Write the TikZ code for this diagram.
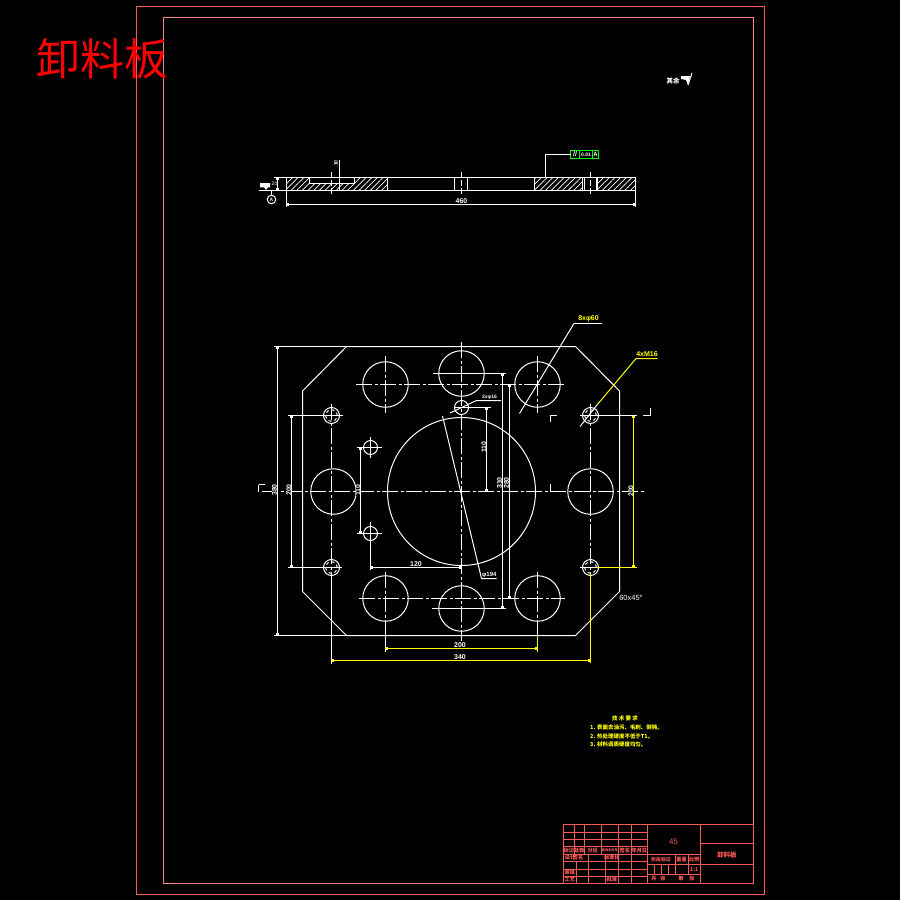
\documentclass[tikz,border=0pt]{standalone}
\usepackage{fontspec}
\setmainfont{Liberation Sans}
\newfontfamily\cjk{Noto Sans CJK SC}
\usetikzlibrary{arrows.meta, patterns.meta, positioning, calc}
\definecolor{framered}{RGB}{255,90,90}
\definecolor{framepink}{RGB}{255,130,140}
\definecolor{dimyellow}{RGB}{255,255,0}
\definecolor{framegreen}{RGB}{0,255,0}
\tikzset{
    outline/.style={draw=white, line width=1bp},
    centerline/.style={draw=white, line width=1bp, dash pattern=on 16bp off 2.5bp on 3bp off 2.5bp},
    dimline/.style={draw=white, line width=1bp, {Square[length=2.6bp,width=2.6bp]}-{Square[length=2.6bp,width=2.6bp]}},
    ydimline/.style={dimline, draw=dimyellow, line width=1.2bp},
    hole/.style={circle, draw=white, line width=1bp, inner sep=0pt, minimum size=#1},
    hatch/.style={pattern={Lines[angle=45,distance=4bp,line width=0.7bp]}, pattern color=white},
    dimtext/.style={text=white, font=\fontsize{7}{7}\selectfont\bfseries, inner sep=0pt},
    ydimtext/.style={dimtext, text=dimyellow},
    cell/.style={draw=framered, line width=1bp},
    celltext/.style={text=framered, font=\fontsize{5.2}{5.2}\selectfont\cjk\bfseries, inner sep=0pt}
}
\begin{document}
\begin{tikzpicture}[x=1bp, y=-1bp]
    \useasboundingbox (0,0) rectangle (900,900);
    \fill[black] (0,0) rectangle (900,900);

    % frames
    \draw[framered, line width=1bp] (136.5,6.5) rectangle (764.5,894.5);
    \draw[framepink, line width=0.9bp] (163.5,17.5) rectangle (753.5,883.5);
    \node[text=red, font=\fontsize{44}{44}\selectfont\cjk, inner sep=0pt] (title) at (102.5,59) {卸料板};

    % roughness note
    \node[dimtext, font=\fontsize{6.5}{6.5}\selectfont\cjk\bfseries] (note) at (673,81) {其余};
    \fill[white] (681,76) -- (690,76) -- (688,85) -- (686,80) -- (681,79) -- cycle;
    \draw[outline] (688,85) -- (692,73);

    % section view
    \fill[hatch] (286.5,177.5) -- (309.5,177.5) -- (309.5,183.5) -- (354.5,183.5) -- (354.5,177.5) -- (387.5,177.5) -- (387.5,190.5) -- (286.5,190.5) -- cycle;
    \fill[hatch] (534.5,177.5) rectangle (582.5,190.5);
    \fill[hatch] (598,177.5) rectangle (635.5,190.5);
    \draw[outline] (274,177.5) -- (635.5,177.5) -- (635.5,207);
    \draw[outline] (259,190.5) -- (635.5,190.5);
    \draw[outline] (286.5,177.5) -- (286.5,207);
    \draw[outline] (309.5,177.5) -- (309.5,183.5) -- (354.5,183.5) -- (354.5,177.5);
    \foreach \x in {387.5, 454.5, 467.5, 534.5, 582.5, 584.5, 596.5, 597.5} {
        \draw[outline] (\x,177.5) -- (\x,190.5);
    }
    \foreach \x in {331.5, 461.5, 590.5} {
        \draw[centerline, dash pattern=on 6bp off 2bp on 6bp off 2bp] (\x,172) -- (\x,196);
    }
    \draw[outline] (339.5,160) -- (339.5,190.5);
    \node[dimtext, rotate=90, font=\fontsize{5}{5}\selectfont\bfseries] (depth) at (336,163) {10};
    \draw[dimline] (277.5,177.5) -- (277.5,190.5);
    \node[dimtext, font=\fontsize{5}{5}\selectfont] (thick) at (274.5,184) {20};
    \draw[dimline] (286.5,204.5) -- (635.5,204.5);
    \node[dimtext, fill=black, inner xsep=1bp] (width) at (461.5,201.5) {460};
    \fill[white] (260,183) -- (270,183) -- (270,187.3) -- (268,187.3) -- (266,190) -- (264,187.3) -- (260,187.3) -- cycle;

    % datum and tolerance frame
    \node[hole=8.6bp, dimtext, draw=white] (datum) at (271.5,199.5) {\fontsize{5}{5}\selectfont A};
    \draw[outline] (271.5,190.5) -- (datum);
    \draw[framegreen, line width=1.2bp] (570.5,150.5) rectangle (598.5,158.5);
    \draw[framegreen, line width=1.2bp] (579.5,150.5) -- (579.5,158.5) (592.5,150.5) -- (592.5,158.5);
    \node[dimtext] (par) at (575,154.5) {//};
    \node[dimtext, font=\fontsize{5}{5}\selectfont\bfseries] (tol) at (586,154.5) {0.01};
    \node[dimtext, font=\fontsize{6}{6}\selectfont\bfseries] (tolref) at (595.5,154.5) {A};
    \draw[outline] (570.5,154.5) -- (545.5,154.5) -- (545.5,177.5);

    % plan outline
    \draw[outline] (346.5,346.5) -- (575.5,346.5) -- (619.5,391) -- (619.5,591.5) -- (575.5,635.5) -- (346.5,635.5) -- (302.5,591.5) -- (302.5,391) -- cycle;
    \draw[outline] (274,346.5) -- (346.5,346.5) (274,635.5) -- (346.5,635.5);

    % holes
    \node[hole=148bp] (bore) at (461.5,491.5) {};
    \foreach \n/\x/\y in {a/385.5/384.5, b/461.5/373.5, c/537.5/384.5, d/333.5/491.5, e/590.5/491.5, f/385.5/598.5, g/461.5/608.5, h/537.5/598.5} {
        \node[hole=45.5bp] (big\n) at (\x,\y) {};
    }
    \foreach \n/\x/\y in {a/331.5/415.5, b/590.5/415.5, c/331.5/567.5, d/590.5/567.5} {
        \node[hole=16bp] (thr\n) at (\x,\y) {};
        \node[hole=11.5bp, dashed] (thi\n) at (\x,\y) {};
    }
    \node[hole=14bp] (pina) at (370.5,447.5) {};
    \node[hole=14bp] (pinb) at (370.5,533.5) {};
    \node[hole=14bp] (pinc) at (461.5,407.5) {};

    % center lines
    \draw[centerline] (262,491.5) -- (645,491.5);
    \draw[centerline] (461.5,342) -- (461.5,640.5);
    \draw[centerline] (331.5,404) -- (331.5,578);
    \draw[centerline] (590.5,404) -- (590.5,578);
    \draw[centerline] (356,384.5) -- (566,384.5);
    \draw[centerline] (359,598.5) -- (565,598.5);
    \draw[outline] (433,373.5) -- (506,373.5) (432,608.5) -- (506,608.5);
    \foreach \x in {385.5, 537.5} {
        \draw[centerline] (\x,356) -- (\x,412.5);
        \draw[centerline] (\x,572) -- (\x,621);
    }
    \draw[outline] (357,447.5) -- (382,447.5) (370.5,437) -- (370.5,458);
    \draw[outline] (357,533.5) -- (382,533.5) (370.5,522) -- (370.5,570);
    \draw[outline] (385.5,621) -- (385.5,651.5);
    \draw[outline] (331.5,578) -- (331.5,664);
    \draw[outline] (288,415.5) -- (343,415.5) (288,567.5) -- (342,567.5);
    \draw[outline] (580,415.5) -- (637,415.5) (580,567.5) -- (597,567.5);
    \draw[outline] (455,407.5) -- (491,407.5);
    \draw[outline] (537.5,621) -- (537.5,635.5);
    \draw[dimyellow, line width=1.2bp] (537.5,635.5) -- (537.5,651.5);
    \draw[dimyellow, line width=1.2bp] (590.5,574) -- (590.5,663);
    \draw[dimyellow, line width=1.2bp] (597,567.5) -- (637,567.5);

    % section marks
    \draw[outline] (557,415.5) -- (550.5,415.5) -- (550.5,422);
    \draw[outline] (550.5,484) -- (550.5,491.5);
    \draw[outline] (643,415.5) -- (650.5,415.5) -- (650.5,408);
    \draw[outline] (258.5,484.5) -- (265,484.5) (258.5,484.5) -- (258.5,491.5);

    % dimensions
    \draw[dimline] (277.5,346.5) -- (277.5,635.5);
    \node[dimtext, rotate=90, fill=black] (dima) at (274.5,490) {380};
    \draw[dimline] (291.5,415.5) -- (291.5,567.5);
    \node[dimtext, rotate=90, fill=black] (dimb) at (289,490) {200};
    \draw[dimline] (360.5,447.5) -- (360.5,533.5);
    \node[dimtext, rotate=90, fill=black] (dimc) at (358,490) {110};
    \draw[dimline] (486.5,407.5) -- (486.5,491.5);
    \node[dimtext, rotate=90, fill=black] (dimd) at (484,447) {110};
    \draw[dimline] (502.5,373.5) -- (502.5,608.5);
    \node[dimtext, rotate=90] (dime) at (499.5,483) {310};
    \draw[dimline] (509.5,384.5) -- (509.5,598.5);
    \node[dimtext, rotate=90] (dimf) at (506.5,483) {280};
    \draw[ydimline] (633.5,415.5) -- (633.5,567.5);
    \node[dimtext, rotate=90, fill=black] (dimg) at (631,491) {200};
    \draw[dimline] (370.5,567.5) -- (461.5,567.5);
    \node[dimtext] (dimh) at (416,564) {120};
    \draw[ydimline] (385.5,648.5) -- (537.5,648.5);
    \node[dimtext] (dimi) at (460,645) {200};
    \draw[ydimline] (331.5,660.5) -- (590.5,660.5);
    \node[dimtext] (dimj) at (460,657) {340};

    % leaders
    \draw[outline] (519.5,413.5) -- (574,323.5);
    \draw[outline] (574,323.5) -- (602,323.5);
    \node[ydimtext, font=\fontsize{7}{7}\selectfont\bfseries] (lbla) at (588.5,318.5) {8xφ60};
    \draw[outline] (580,426.5) -- (597,405);
    \draw[dimyellow, line width=1bp] (597,405) -- (636,358.5) -- (657.5,358.5);
    \node[ydimtext, font=\fontsize{7}{7}\selectfont\bfseries] (lblb) at (647,354) {4xM16};
    \draw[outline] (450,413) -- (476.5,400.5) -- (501,400.5);
    \node[dimtext, font=\fontsize{5}{5}\selectfont\bfseries] (lblc) at (489.5,397) {2xφ16};
    \draw[outline] (442.5,416) -- (481.5,578.5) -- (496.5,578.5);
    \node[dimtext, font=\fontsize{6}{6}\selectfont\bfseries] (lbld) at (489.3,575) {φ194};
    \node[dimtext, font=\fontsize{7.5}{7.5}\selectfont] (lble) at (631,598) {60x45°};

    % technical notes
    \node[ydimtext, font=\fontsize{5.5}{5.5}\selectfont\cjk\bfseries] (reqh) at (625,718) {技 术 要 求};
    \node[ydimtext, font=\fontsize{5.5}{5.5}\selectfont\cjk\bfseries, anchor=west] (reqa) at (590,727.5) {1. 表面去油污、毛刺、倒钝。};
    \node[ydimtext, font=\fontsize{5.5}{5.5}\selectfont\cjk\bfseries, anchor=west] (reqb) at (590,736) {2. 热处理硬度不低于T1。};
    \node[ydimtext, font=\fontsize{5.5}{5.5}\selectfont\cjk\bfseries, anchor=west] (reqc) at (590,744.5) {3. 材料调质硬度均匀。};

    % title block
    \draw[cell] (563.5,824.5) rectangle (753.5,883.5);
    \draw[cell] (647.5,824.5) -- (647.5,883.5) (700.5,824.5) -- (700.5,883.5);
    \draw[cell] (700.5,843.5) -- (753.5,843.5) (700.5,864.5) -- (753.5,864.5);
    \foreach \y in {854.5, 864.5, 874.5} {
        \draw[cell] (647.5,\y) -- (700.5,\y);
    }
    \foreach \x in {675.5, 688.5} {
        \draw[cell] (\x,854.5) -- (\x,874.5);
    }
    \foreach \x in {654.5, 661.5, 668.5} {
        \draw[cell] (\x,864.5) -- (\x,874.5);
    }
    \foreach \y in {832.5, 839.5, 846.5, 854.5, 861.5, 869.5, 876.5} {
        \draw[cell] (563.5,\y) -- (647.5,\y);
    }
    \foreach \x in {574.5, 584.5, 601.5} {
        \draw[cell] (\x,824.5) -- (\x,854.5);
    }
    \foreach \x in {618.5, 631.5} {
        \draw[cell] (\x,824.5) -- (\x,883.5);
    }
    \foreach \x in {588.5, 605.5} {
        \draw[cell] (\x,854.5) -- (\x,883.5);
    }
    \draw[cell] (576.5,861.5) -- (576.5,883.5);
    \foreach \n/\x/\y/\t in {a/568.8/850.5/标记, b/579.3/850.5/处数, c/592.8/850.5/分区, e/624.8/850.5/签名, f/639.3/850.5/年月日, g/570/857.8/设计, h/578/857.8/签名, i/611.8/857.8/标准化, j/569.8/872.8/审核, k/569.8/879.8/工艺, l/611.8/879.8/批准, n/681.6/859.5/重量, o/694.3/859.5/比例, p/694.3/869.5/1:1, q/654/878.8/共, r/663/878.8/张, s/681/878.8/第, t/692/878.8/张} {
        \node[celltext] (tb\n) at (\x,\y) {\t};
    }
    \node[celltext, font=\fontsize{3.2}{3.2}\selectfont\cjk\bfseries] (tbd) at (609.8,850.5) {更改文件号};
    \node[celltext, font=\fontsize{4.8}{4.8}\selectfont\cjk\bfseries] (tbm) at (661,859.5) {阶段标记};
    \node[text=framered, font=\fontsize{8}{8}\selectfont, inner sep=0pt] (matl) at (673.5,842) {45};
    \node[celltext, font=\fontsize{6.5}{6.5}\selectfont\cjk\bfseries] (part) at (727,855) {卸料板};
\end{tikzpicture}
\end{document}
